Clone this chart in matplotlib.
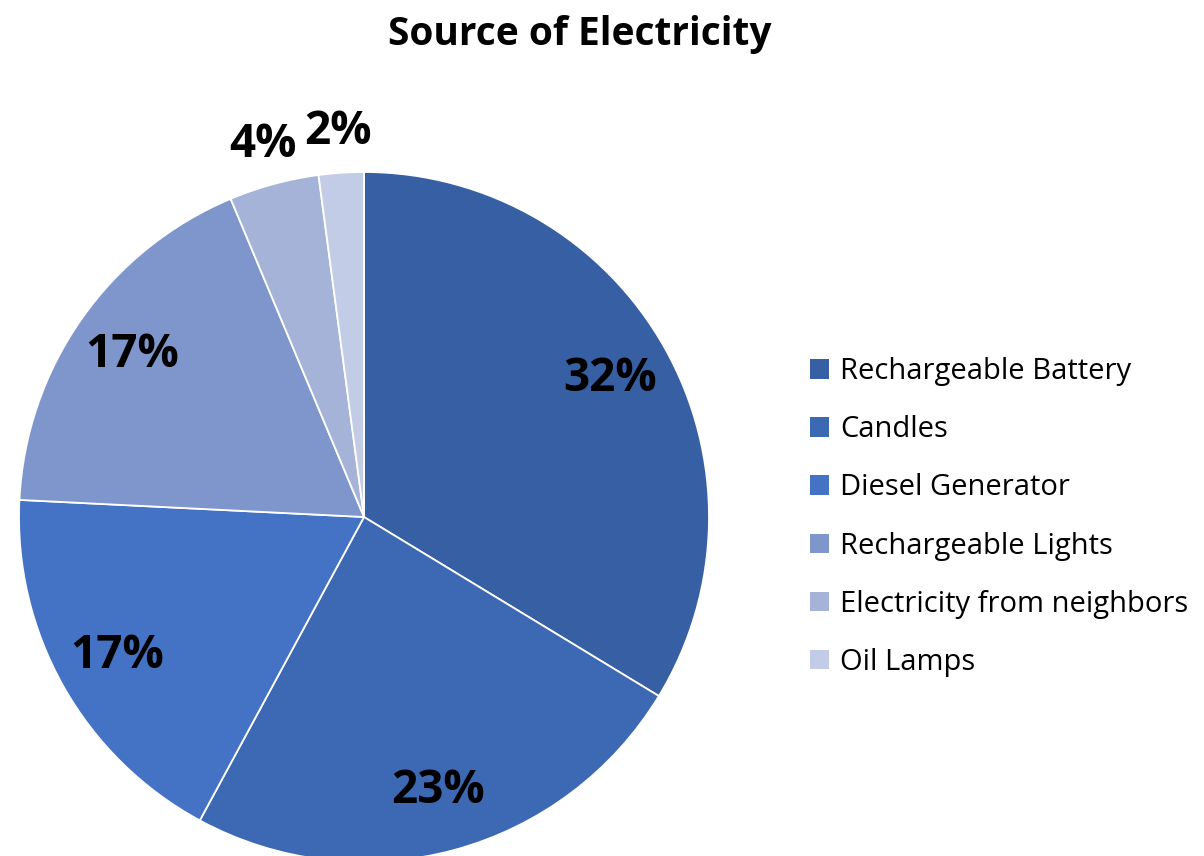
import numpy as np
import matplotlib
matplotlib.use("Agg")
import matplotlib.pyplot as plt
from matplotlib.patches import Patch

plt.rcParams['font.family'] = ['Open Sans', 'DejaVu Sans']

# share of households by source (%)
sources = ['Rechargeable Battery', 'Candles', 'Diesel Generator',
           'Rechargeable Lights', 'Electricity from neighbors', 'Oil Lamps']
shares = [32, 23, 17, 17, 4, 2]
colors = ['#375FA3', '#3D69B4', '#4472C4', '#7F96CD', '#A5B3D9', '#C2CCE6']

W, H = 1204, 856
fig = plt.figure(figsize=(W / 100, H / 100), dpi=100)

# pie centred at (364, 517) px with radius 345 px
cx, cy, r = 364, 517, 345
ax = fig.add_axes([(cx - r) / W, (H - cy - r) / H, 2 * r / W, 2 * r / H])
wedges, _ = ax.pie(shares, colors=colors, startangle=90, counterclock=False,
                   radius=1.0, wedgeprops=dict(edgecolor='white', linewidth=1.3))
ax.set_xlim(-1, 1)
ax.set_ylim(-1, 1)
for w in wedges:
    w.set_clip_on(False)

# value labels: inside for big slices, outside for small ones
for w, v in zip(wedges, shares):
    mid = np.deg2rad((w.theta1 + w.theta2) / 2)
    dist = 0.82 if v >= 10 else 1.12
    ax.text(dist * np.cos(mid), dist * np.sin(mid), f'{v}%',
            ha='center', va='center', fontsize=33, fontweight='bold',
            color='black', clip_on=False)

fig.text(580 / W, 1 - 34 / H, 'Source of Electricity', ha='center', va='center',
         fontsize=28, fontweight='bold')

handles = [Patch(facecolor=c, edgecolor='none') for c in colors]
fig.legend(handles, sources, loc='center left',
           bbox_to_anchor=(798 / W, 1 - 517 / H), frameon=False,
           fontsize=21, handlelength=0.65, handleheight=0.65,
           handletextpad=0.4, labelspacing=1.0, borderaxespad=0)

fig.savefig('out.png', dpi=100)
